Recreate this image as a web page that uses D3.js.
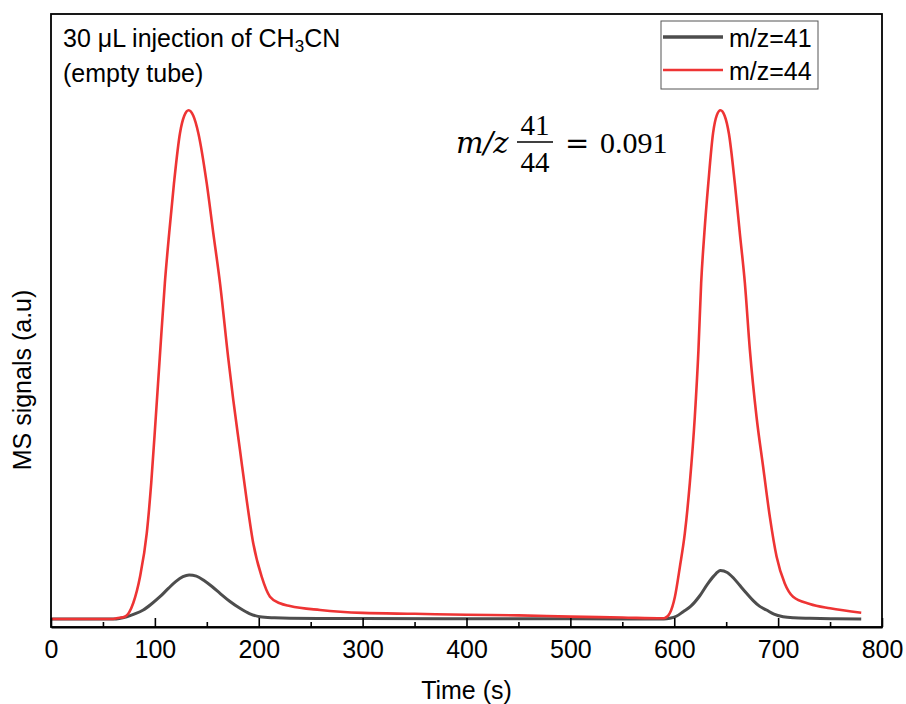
<!DOCTYPE html>
<html>
<head>
<meta charset="utf-8">
<script src="https://d3js.org/d3.v7.min.js"></script>
<style>
  body { margin: 0; background: #ffffff; }
  text { font-family: "Liberation Sans", Arial, sans-serif; fill: #000000; }
  .math { font-family: "Liberation Serif", "DejaVu Serif", serif; }
  .math2 { font-family: "DejaVu Serif", serif; }
</style>
</head>
<body>
<div id="chart"></div>
<script>
  // m/z=41 trace (time in s, signal in a.u.)
  const time41 = [0, 60, 72.9, 80, 88.8, 97, 104.9, 113, 120, 127, 133, 140, 148, 155, 162.7, 172, 181.9, 191, 201, 215, 230,
                  300, 400, 500, 590, 595.8, 602, 608.6, 616, 624.6, 632, 638, 644.5, 651, 657, 663, 669.6, 676, 682, 688.8,
                  696, 704.8, 715, 730.5, 755, 780];
  const signal41 = [1.3, 1.3, 1.68, 2.1, 2.77, 3.8, 4.94, 6.3, 7.4, 8.2, 8.48, 8.3, 7.5, 6.6, 5.5, 4.2, 3.05, 2.2, 1.68, 1.5, 1.42,
                    1.38, 1.35, 1.33, 1.3, 1.42, 1.75, 2.5, 3.4, 5.1, 7.0, 8.3, 9.2, 8.9, 8.0, 6.8, 5.5, 4.3, 3.4, 2.77,
                    2.1, 1.68, 1.5, 1.42, 1.35, 1.3];

  // m/z=44 trace
  const time44 = [0, 60, 63.2, 71.2, 79.2, 85.7, 92.2, 96.5, 100.9, 104.7, 109.6, 113.8, 118.4, 124.2, 128.3, 132.5, 137, 141.8,
                  149.9, 156.2, 162.7, 170.6, 175.5, 181.9, 188.4, 194.7, 202.8, 210.8, 220.4, 230, 259, 300, 350, 400, 450,
                  500, 550, 589, 591, 595.8, 600.6, 605.4, 610.2, 615, 619.8, 623.3, 625.9, 629, 632.8, 637.4, 641, 644.5, 648.5,
                  652.6, 658.3, 663.1, 668, 672.8, 679.2, 685.6, 692, 698.5, 706.4, 714.4, 730.5, 750, 780];
  const signal44 = [1.3, 1.3, 1.42, 1.68, 3.92, 8.2, 15.3, 23.5, 34.3, 43.9, 56.1, 64.3, 72.4, 80.6, 83.4, 84.3, 83.4, 80.6,
                    72.4, 64.3, 56.1, 43.9, 37.0, 28.9, 20.7, 13.65, 8.2, 4.94, 3.87, 3.43, 2.77, 2.3, 2.15, 2.0, 1.9,
                    1.7, 1.55, 1.42, 1.47, 2.28, 4.9, 9.8, 15.3, 23.5, 34.3, 45.2, 56.1, 64.3, 72.4, 80.6, 83.5, 84.3, 83.4,
                    80.5, 72.4, 64.3, 56.1, 45.2, 34.3, 26.1, 18.0, 11.5, 7.1, 4.94, 3.75, 3.05, 2.33];

  const seriesNames = ["m/z=41", "m/z=44"];
  const seriesColors = ["#4d4d4d", "#ee3434"];
  const xTicks = [0, 100, 200, 300, 400, 500, 600, 700, 800];
  const xMinorTicks = [50, 150, 250, 350, 450, 550, 650, 750];

  const width = 906, height = 704;
  const margin = {top: 14, right: 24, bottom: 77, left: 51};
  const innerW = width - margin.left - margin.right;
  const innerH = height - margin.top - margin.bottom;

  const svg = d3.select("#chart").append("svg")
    .attr("width", width)
    .attr("height", height);

  const g = svg.append("g")
    .attr("transform", `translate(${margin.left}, ${margin.top})`);

  const x = d3.scaleLinear().domain([0, 800]).range([0, innerW]);
  const y = d3.scaleLinear().domain([0, 100]).range([innerH, 0]);

  const line = d3.line()
    .curve(d3.curveMonotoneX)
    .x(d => x(d[0]))
    .y(d => y(d[1]));

  const traces = [
    d3.zip(time41, signal41),
    d3.zip(time44, signal44)
  ];

  // traces (grey first, red on top)
  g.selectAll("path.trace")
    .data(traces)
    .join("path")
    .attr("class", "trace")
    .attr("fill", "none")
    .attr("stroke", (d, i) => seriesColors[i])
    .attr("stroke-width", (d, i) => i === 0 ? 3 : 2.6)
    .attr("stroke-linejoin", "round")
    .attr("d", line);

  // frame
  g.append("rect")
    .attr("width", innerW)
    .attr("height", innerH)
    .attr("fill", "none")
    .attr("stroke", "#000")
    .attr("stroke-width", 1.8);

  // bottom axis, ticks pointing inward
  const xAxis = g.append("g")
    .attr("transform", `translate(0, ${innerH})`)
    .call(d3.axisBottom(x).tickValues(xTicks).tickSize(-9).tickPadding(13).tickSizeOuter(0));
  xAxis.select(".domain").attr("stroke-width", 1.8);
  xAxis.selectAll(".tick line").attr("stroke-width", 1.6);
  xAxis.selectAll("text")
    .style("font-size", "25px")
    .attr("fill", "#000");

  g.append("g")
    .attr("transform", `translate(0, ${innerH})`)
    .call(d3.axisBottom(x).tickValues(xMinorTicks).tickSize(-5).tickFormat(""))
    .call(a => a.select(".domain").remove())
    .selectAll(".tick line").attr("stroke-width", 1.6);

  // axis labels
  svg.append("text")
    .attr("x", margin.left + innerW / 2)
    .attr("y", 699)
    .attr("text-anchor", "middle")
    .style("font-size", "25px")
    .text("Time (s)");

  svg.append("text")
    .attr("transform", "translate(31, 380) rotate(-90)")
    .attr("text-anchor", "middle")
    .style("font-size", "25px")
    .text("MS signals (a.u)");

  // annotation
  const note = svg.append("text")
    .attr("x", 63)
    .attr("y", 47)
    .style("font-size", "25px");
  note.append("tspan").text("30 μL injection of CH");
  note.append("tspan").attr("baseline-shift", "-28%").style("font-size", "17px").text("3");
  note.append("tspan").text("CN");

  svg.append("text")
    .attr("x", 63)
    .attr("y", 82)
    .style("font-size", "25px")
    .text("(empty tube)");

  // ratio formula
  const fy = 153;
  svg.append("text").attr("class", "math2")
    .attr("x", 456).attr("y", fy)
    .style("font-size", "29px").style("font-style", "italic")
    .text("m/z");
  svg.append("line")
    .attr("x1", 517).attr("x2", 553)
    .attr("y1", 142).attr("y2", 142)
    .attr("stroke", "#000").attr("stroke-width", 1.3);
  svg.append("text").attr("class", "math")
    .attr("x", 535).attr("y", 135).attr("text-anchor", "middle")
    .style("font-size", "29px")
    .text("41");
  svg.append("text").attr("class", "math")
    .attr("x", 535).attr("y", 171.5).attr("text-anchor", "middle")
    .style("font-size", "29px")
    .text("44");
  svg.append("text").attr("class", "math2")
    .attr("x", 565).attr("y", fy)
    .style("font-size", "29px")
    .text("=");
  svg.append("text").attr("class", "math")
    .attr("x", 600).attr("y", fy)
    .style("font-size", "30px")
    .text("0.091");

  // legend
  const legend = svg.append("g");
  legend.append("rect")
    .attr("x", 661).attr("y", 21)
    .attr("width", 157).attr("height", 68)
    .attr("fill", "#fff")
    .attr("stroke", "#555")
    .attr("stroke-width", 1);

  const items = legend.selectAll("g.item")
    .data(seriesNames)
    .join("g")
    .attr("class", "item")
    .attr("transform", (d, i) => `translate(0, ${i * 33})`);
  items.append("line")
    .attr("x1", 663).attr("x2", 723)
    .attr("y1", 37).attr("y2", 37)
    .attr("stroke", (d, i) => seriesColors[i])
    .attr("stroke-width", (d, i) => i === 0 ? 3.5 : 2.6);
  items.append("text")
    .attr("x", 729).attr("y", 46.5)
    .style("font-size", "25px")
    .text(d => d);
</script>
</body>
</html>
